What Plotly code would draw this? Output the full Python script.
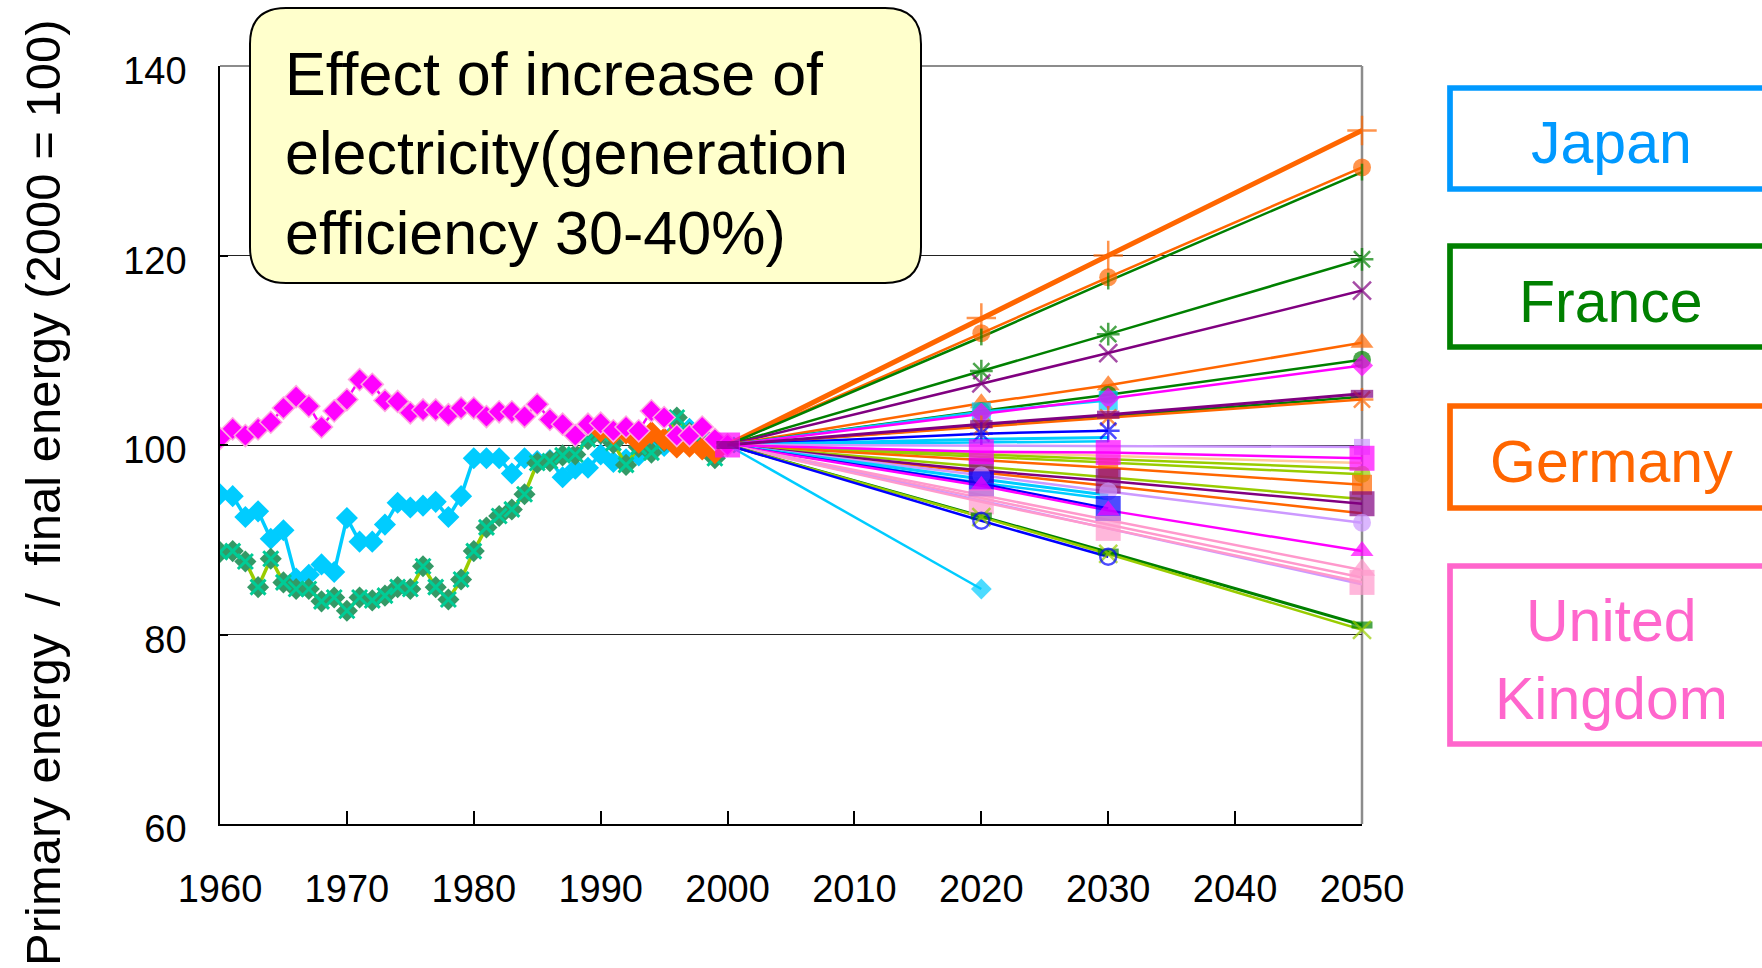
import plotly.graph_objects as go

# ---------------------------------------------------------------------------
# Data: primary energy / final energy, index 2000 = 100
# ---------------------------------------------------------------------------
YEARS_HIST = list(range(1960, 2001))

JAPAN_HIST = [94.8, 94.6, 92.4, 93.0, 90.1, 91.0, 85.9, 86.3, 87.4, 86.6,
              92.3, 89.8, 89.8, 91.6, 93.9, 93.4, 93.6, 94.0, 92.4, 94.6,
              98.6, 98.6, 98.6, 97.0, 98.6, 98.3, 98.4, 96.6, 97.5, 97.6,
              99.0, 98.2, 98.5, 98.9, 99.6, 99.9, 101.5, 101.7, 101.0, 100.5,
              100.0]

FRANCE_HIST = [88.7, 88.8, 87.7, 85.0, 88.0, 85.5, 84.8, 84.8, 83.5, 83.9,
               82.5, 83.9, 83.6, 84.1, 85.0, 84.8, 87.2, 85.0, 83.7, 85.8,
               88.8, 91.3, 92.5, 93.2, 94.8, 98.1, 98.3, 98.9, 99.0, 100.6,
               101.2, 100.2, 97.9, 99.8, 99.2, 100.4, 102.9, 101.3, 100.2, 98.6,
               100.0]

UK_HIST = [100.7, 101.7, 101.0, 101.7, 102.4, 103.9, 105.1, 104.1, 101.9, 103.6,
           104.8, 106.9, 106.4, 104.7, 104.6, 103.4, 103.7, 103.7, 103.2, 103.9,
           103.9, 103.0, 103.5, 103.5, 103.0, 104.3, 102.7, 102.2, 101.0, 102.2,
           102.3, 101.5, 101.9, 101.5, 103.6, 102.9, 101.0, 101.0, 101.9, 100.6,
           100.0]

GERMANY_YEARS = list(range(1990, 2001))
GERMANY_HIST = [101.5, 101.2, 101.3, 100.3, 101.3, 100.6, 99.8, 99.9, 99.6, 99.2, 100.0]

# Scenario paths: values at 2000, 2020, 2030, 2050 (None = not given)
SCEN_YEARS = [2000, 2020, 2030, 2050]

ORANGE_CROSS = [100, 113.4, 120.0, 133.2]
ORANGE_CIRCLE = [100, 111.8, 117.7, 129.3]
GREEN_TICK = [100, 111.4, 117.3, 128.8]
GREEN_STAR = [100, 107.8, 111.7, 119.6]
PURPLE_X = [100, 106.5, 109.7, 116.3]
ORANGE_TRIANGLE = [100, 104.4, 106.3, 110.8]
GREEN_CIRCLE = [100, 103.6, 105.3, 109.0]
CYAN_SQUARE = [100, 103.5, 104.7, None]
MAGENTA_DIAMOND = [100, 103.3, 104.9, 108.4]
GREEN_PLAIN = [100, 102.0, 103.0, 105.1]
ORANGE_STAR = [100, 101.9, 102.9, 104.8]
BLUE_STAR = [100, 101.2, 101.5, None]
CYAN_A = [100, 100.6, 100.8, None]
CYAN_B = [100, 100.3, 100.4, None]
LAVENDER_SMALL = [100, None, None, 99.8]
PEACH = [100, None, None, 98.1]
YG_A = [100, None, None, 97.5]
YG_CIRCLE = [100, None, None, 96.9]
ORANGE_SQUARE = [100, None, 97.6, 95.8]
YG_B = [100, None, None, 94.3]
ORANGE_PLAIN = [100, None, None, 92.8]
PURPLE_SQUARE = [100, 97.3, 96.2, 93.8]
LAVENDER_CIRCLE = [100, 96.8, 95.1, 91.8]
CYAN_C = [100, 96.4, 94.7, None]
CYAN_D = [100, 96.0, 94.3, None]
BLUE_SQUARE = [100, 95.9, 93.3, None]
MAGENTA_TRIANGLE = [100, 95.7, 93.1, 88.8]
PINK_TRIANGLE = [100, None, None, 86.8]
PINK_A = [100, None, None, 86.0]
LAVENDER_PLAIN = [100, None, None, 85.3]
PINK_SQUARE = [100, 94.0, 91.2, 85.5]
GREEN_BAR = [100, 92.5, 88.7, 81.0]
YG_X = [100, 92.4, 88.5, 80.5]
BLUE_RING = [100, 92.0, 88.2, None]
CYAN_DIAMOND = [100, 84.8, None, None]
MAGENTA_SQUARE = [100, 99.3, 99.2, 98.6]
PURPLE_BAR = [100, 102.2, 103.2, 105.4]

X_TICKS = list(range(1960, 2051, 10))
Y_TICKS = [60, 80, 100, 120, 140]

BOX_TEXT = "Effect of increase of<br>electricity(generation<br>efficiency 30-40%)"
Y_TITLE = "Primary energy  /  final energy (2000 = 100)"
COUNTRIES = ["Japan", "France", "Germany", "United", "Kingdom"]

# ---------------------------------------------------------------------------
# Colours
# ---------------------------------------------------------------------------
ORANGE = "#FF6600"
GREEN = "#008000"
PURPLE = "#800080"
MAGENTA = "#FF00FF"
CYAN = "#00CCFF"
BLUE = "#0000FF"
LAVENDER = "#CC99FF"
PINK = "#FF99CC"
PEACH_C = "#FFCC99"
YGREEN = "#99CC00"
SEAGREEN = "#339966"

FONT = "Liberation Sans, Arial, sans-serif"

# Figure geometry (pixels) and helpers to place decorations in paper units
W, H = 1762, 968
ML, MR, MT, MB = 220, 400, 66, 144
PW, PH = W - ML - MR, H - MT - MB


def px(x):
    return (x - ML) / PW


def py(y):
    return (H - MB - y) / PH


fig = go.Figure()

# ---------------------------------------------------------------------------
# Historical series 1960-2000
# ---------------------------------------------------------------------------
fig.add_trace(go.Scatter(
    x=YEARS_HIST, y=JAPAN_HIST, mode="lines+markers",
    line=dict(color=CYAN, width=3.5),
    marker=dict(symbol="diamond", size=17, color=CYAN),
))
fig.add_trace(go.Scatter(
    x=YEARS_HIST, y=FRANCE_HIST, mode="lines+markers",
    line=dict(color=YGREEN, width=3.5),
    marker=dict(symbol="diamond", size=17, color=SEAGREEN),
))
fig.add_trace(go.Scatter(
    x=YEARS_HIST, y=FRANCE_HIST, mode="markers",
    marker=dict(symbol="x-thin-open", size=15, line=dict(color=YGREEN, width=3)),
))
fig.add_trace(go.Scatter(
    x=GERMANY_YEARS, y=GERMANY_HIST, mode="lines+markers",
    line=dict(color=ORANGE, width=3.5),
    marker=dict(symbol="diamond", size=18, color=ORANGE),
))
fig.add_trace(go.Scatter(
    x=YEARS_HIST, y=UK_HIST, mode="lines+markers",
    line=dict(color=MAGENTA, width=2.5),
    marker=dict(symbol="diamond", size=17, color=MAGENTA,
                line=dict(color="#FFA8E0", width=1.5)),
))

# ---------------------------------------------------------------------------
# Scenario paths 2000-2050: (values, colour, symbol, size, marker line width,
# path width, marker shown at 2000)
# ---------------------------------------------------------------------------
SCENARIOS = [
    (ORANGE_CROSS, ORANGE, "cross-thin-open", 21, 2.5, 5, False),
    (ORANGE_CIRCLE, ORANGE, "circle", 18, 0, 2.5, False),
    (GREEN_TICK, GREEN, "line-ns-open", 12, 2.5, 2.5, False),
    (GREEN_STAR, GREEN, "asterisk-open", 19, 2.5, 2.5, False),
    (PURPLE_X, PURPLE, "x-thin-open", 18, 2.5, 2.5, False),
    (ORANGE_TRIANGLE, ORANGE, "triangle-up", 20, 0, 2.5, False),
    (GREEN_CIRCLE, GREEN, "circle", 18, 0, 2.5, False),
    (CYAN_SQUARE, CYAN, "square", 19, 0, 2.5, False),
    (MAGENTA_DIAMOND, MAGENTA, "diamond", 17, 0, 2.5, False),
    (GREEN_PLAIN, GREEN, "circle", 0, 0, 2.5, False),
    (ORANGE_STAR, ORANGE, "asterisk-open", 19, 2.5, 2.5, False),
    (BLUE_STAR, BLUE, "asterisk-open", 19, 2.5, 2.5, False),
    (CYAN_A, CYAN, "circle", 0, 0, 3, False),
    (CYAN_B, CYAN, "circle", 0, 0, 2.5, False),
    (LAVENDER_SMALL, LAVENDER, "square", 16, 0, 2.5, False),
    (PEACH, PEACH_C, "circle", 0, 0, 2.5, False),
    (YG_A, YGREEN, "circle", 0, 0, 2.5, False),
    (YG_CIRCLE, YGREEN, "circle", 17, 0, 2.5, False),
    (ORANGE_SQUARE, ORANGE, "square", 20, 0, 2.5, False),
    (YG_B, YGREEN, "circle", 0, 0, 2.5, False),
    (ORANGE_PLAIN, ORANGE, "circle", 0, 0, 2.5, False),
    (PURPLE_SQUARE, PURPLE, "square", 25, 0, 2.5, False),
    (LAVENDER_CIRCLE, LAVENDER, "circle", 18, 0, 2.5, False),
    (CYAN_C, CYAN, "circle", 0, 0, 3, False),
    (CYAN_D, CYAN, "circle", 0, 0, 2.5, False),
    (BLUE_SQUARE, BLUE, "square", 25, 0, 2.5, False),
    (MAGENTA_TRIANGLE, MAGENTA, "triangle-up", 20, 0, 2.5, False),
    (PINK_TRIANGLE, PINK, "triangle-up", 23, 0, 2.5, False),
    (PINK_A, PINK, "circle", 0, 0, 2.5, False),
    (LAVENDER_PLAIN, LAVENDER, "circle", 0, 0, 2.5, False),
    (PINK_SQUARE, PINK, "square", 25, 0, 2.5, False),
    (GREEN_BAR, GREEN, "line-ew-open", 15, 7, 3, False),
    (YG_X, YGREEN, "x-thin-open", 18, 2.5, 2.5, False),
    (BLUE_RING, BLUE, "circle-open", 16, 2.5, 2.5, False),
    (CYAN_DIAMOND, CYAN, "diamond", 16, 0, 2.5, False),
    (MAGENTA_SQUARE, MAGENTA, "square", 25, 0, 2.5, True),
    (PURPLE_BAR, PURPLE, "line-ew-open", 16, 8, 3, True),
]

# paths first, so every marker sits on top of the fan of lines
for values, color, symbol, size, mlw, width, at_start in SCENARIOS:
    fig.add_trace(go.Scatter(
        x=SCEN_YEARS, y=values, mode="lines", connectgaps=True,
        cliponaxis=False, line=dict(color=color, width=width),
    ))

for values, color, symbol, size, mlw, width, at_start in SCENARIOS:
    if size == 0:
        continue
    sizes = [size if (i > 0 or at_start) else 0 for i in range(len(values))]
    fig.add_trace(go.Scatter(
        x=SCEN_YEARS, y=values, mode="markers", cliponaxis=False,
        marker=dict(symbol=symbol, size=sizes, color=color,
                    line=dict(color=color, width=mlw)),
    ))

# ---------------------------------------------------------------------------
# Decorations: plot border, callout box, country boxes, axis title
# ---------------------------------------------------------------------------
shapes = [
    dict(type="line", xref="paper", yref="paper", x0=1, x1=1, y0=0, y1=1,
         line=dict(color="#8C8C8C", width=2.5), layer="below"),
    dict(type="line", xref="paper", yref="paper", x0=0, x1=1, y0=1, y1=1,
         line=dict(color="#8C8C8C", width=2), layer="above"),
]

# rounded callout box
bx0, bx1, byt, byb = px(250), px(921), py(8), py(283)
rx, ry = 36 / PW, 36 / PH
box_path = (
    f"M {bx0 + rx},{byt} L {bx1 - rx},{byt} Q {bx1},{byt} {bx1},{byt - ry} "
    f"L {bx1},{byb + ry} Q {bx1},{byb} {bx1 - rx},{byb} "
    f"L {bx0 + rx},{byb} Q {bx0},{byb} {bx0},{byb + ry} "
    f"L {bx0},{byt - ry} Q {bx0},{byt} {bx0 + rx},{byt} Z"
)
shapes.append(dict(type="path", xref="paper", yref="paper", path=box_path,
                   fillcolor="#FFFFCC", line=dict(color="black", width=2),
                   layer="above"))

# country boxes (they run off the right edge)
COUNTRY_BOXES = [(88, 189, "#0099FF"), (246, 347, GREEN),
                 (406, 508, ORANGE), (566, 744, "#FF66CC")]
for top, bottom, color in COUNTRY_BOXES:
    shapes.append(dict(type="rect", xref="paper", yref="paper",
                       x0=px(1450), x1=px(1830), y0=py(bottom), y1=py(top),
                       line=dict(color=color, width=5.7), layer="above"))

annotations = [
    dict(text=BOX_TEXT, xref="paper", yref="paper", x=px(283), y=py(153),
         xanchor="left", yanchor="middle", align="left", showarrow=False,
         font=dict(family=FONT, size=61, color="black")),
    dict(text=Y_TITLE, xref="paper", yref="paper", x=px(43), y=py(493),
         xanchor="center", yanchor="middle", textangle=-90, showarrow=False,
         font=dict(family=FONT, size=49, color="black")),
]

COUNTRY_LABELS = [(COUNTRIES[0], 143, "#0099FF"), (COUNTRIES[1], 302, GREEN),
                  (COUNTRIES[2], 462, ORANGE), (COUNTRIES[3], 621, "#FF66CC"),
                  (COUNTRIES[4], 699, "#FF66CC")]
for label, yc, color in COUNTRY_LABELS:
    annotations.append(dict(text=label, xref="paper", yref="paper",
                            x=px(1611), y=py(yc), xanchor="center",
                            yanchor="middle", showarrow=False,
                            font=dict(family=FONT, size=59, color=color)))

fig.update_layout(
    width=W, height=H,
    margin=dict(l=ML, r=MR, t=MT, b=MB, pad=0),
    paper_bgcolor="white", plot_bgcolor="rgba(0,0,0,0)",
    showlegend=False,
    shapes=shapes, annotations=annotations,
    xaxis=dict(range=[1960, 2050], tickvals=X_TICKS, ticktext=[str(v) for v in X_TICKS],
               showgrid=False, zeroline=False, showline=True,
               linecolor="black", linewidth=1.5,
               ticks="inside", ticklen=13, tickwidth=1.5, tickcolor="black",
               ticklabelstandoff=31,
               tickfont=dict(family=FONT, size=38, color="black")),
    yaxis=dict(range=[60, 140], tickvals=Y_TICKS, ticktext=[str(v) for v in Y_TICKS],
               showgrid=True, gridcolor="#222222", gridwidth=1.2,
               zeroline=False, showline=True, linecolor="black", linewidth=1.5,
               ticks="inside", ticklen=8, tickwidth=1.5, tickcolor="black",
               ticklabelstandoff=24, ticklabelshift=5,
               tickfont=dict(family=FONT, size=38, color="black")),
)

fig.write_html("out.html")
